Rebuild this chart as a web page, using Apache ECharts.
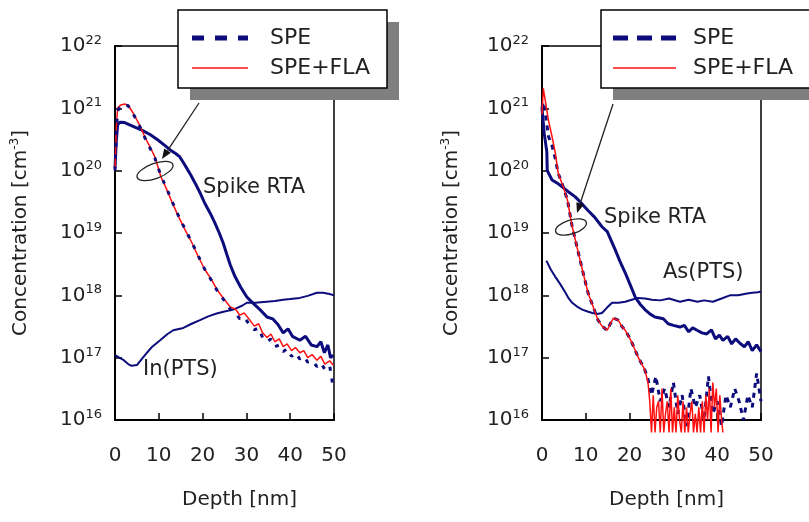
<!DOCTYPE html>
<html>
<head>
<meta charset="utf-8">
<script src="https://cdn.jsdelivr.net/npm/echarts@6/dist/echarts.min.js"></script>
<style>
html, body { margin: 0; padding: 0; background: #fff; }
#chart { width: 809px; height: 522px; }
</style>
</head>
<body>
<div id="chart"></div>
<script>
// ---- Left panel: In profiles ----
const inPtsDepth = [0, 1, 2, 3, 3.8, 5, 6, 7.3, 8.5, 10.3, 12, 13.3, 15.6, 17.5, 19.4, 21.3, 23.2, 25, 27, 29, 30.1, 32, 34.6, 36.5, 38.4, 40, 42.2, 44, 46.1, 47.5, 49, 50];
const inPtsConc = [1.1e17, 1.0e17, 9.1e16, 7.9e16, 7.4e16, 7.6e16, 9.3e16, 1.2e17, 1.5e17, 1.9e17, 2.4e17, 2.75e17, 3.0e17, 3.5e17, 4.0e17, 4.6e17, 5.1e17, 5.5e17, 5.9e17, 6.8e17, 7.6e17, 7.6e17, 7.9e17, 8.1e17, 8.5e17, 8.7e17, 9.1e17, 9.8e17, 1.1e18, 1.1e18, 1.05e18, 1.0e18];

const inSpikeDepth = [0, 0.3, 0.6, 1.2, 2.2, 4, 6, 8, 9.8, 11.5, 12.8, 14, 14.8, 15.6, 16.2, 17.3, 18.3, 19.5, 20.5, 21.7, 22.8, 23.8, 24.7, 25.5, 26.3, 27.4, 28.7, 30.1, 31.5, 33.1, 34.7, 36, 37.2, 38.4, 39.5, 40.5, 42.2, 43.5, 44.8, 46.1, 47, 47.8, 48.6, 49.2, 49.8];
const inSpikeConc = [1.1e20, 3e20, 5.5e20, 6e20, 5.9e20, 5.2e20, 4.5e20, 3.8e20, 3.1e20, 2.5e20, 2.1e20, 1.85e20, 1.66e20, 1.35e20, 1.15e20, 8.5e19, 6.3e19, 4.3e19, 3.0e19, 2.1e19, 1.45e19, 1.0e19, 6.9e18, 4.6e18, 3.1e18, 2.0e18, 1.35e18, 9.4e17, 7.5e17, 5.9e17, 4.5e17, 4.2e17, 3.4e17, 2.5e17, 2.9e17, 2.2e17, 1.9e17, 2.2e17, 1.6e17, 1.5e17, 1.8e17, 1.2e17, 1.6e17, 1.0e17, 1.1e17];

const inDepth = [0, 0.3, 0.6, 1.2, 2.2, 3, 4.1, 5.5, 6.8, 8, 9.1, 10.5, 11.7, 12.8, 14.4, 16, 17.5, 19, 20.5, 22, 23.3, 24.8, 26.3, 27.5, 28.5, 29.5, 30.8, 31.8, 32.8, 33.7, 34.7, 35.6, 36.5, 37.5, 38.4, 39.3, 40.3, 41.2, 42.2, 43.1, 44, 45, 46.1, 47, 47.9, 49, 49.8];
const inSpeFla = [1.0e20, 5e20, 1.0e21, 1.12e21, 1.17e21, 1.12e21, 8.5e20, 5.6e20, 3.5e20, 2.4e20, 1.66e20, 7.9e19, 5.2e19, 3.4e19, 1.9e19, 1.12e19, 7.1e18, 4.2e18, 2.6e18, 1.8e18, 1.23e18, 8.9e17, 6.5e17, 6.0e17, 4.8e17, 5.2e17, 4.0e17, 3.2e17, 3.5e17, 2.5e17, 2.1e17, 2.4e17, 1.8e17, 2.0e17, 1.5e17, 1.66e17, 1.3e17, 1.45e17, 1.2e17, 1.3e17, 1.0e17, 1.12e17, 9.1e16, 1.05e17, 7.9e16, 8.9e16, 7.6e16];
const inSpe = [1.0e20, 4e20, 9e20, 1.1e21, 1.15e21, 1.1e21, 8.3e20, 5.4e20, 3.4e20, 2.3e20, 1.6e20, 8.2e19, 5.4e19, 3.5e19, 1.95e19, 1.15e19, 7.2e18, 4.3e18, 2.6e18, 1.75e18, 1.2e18, 8.5e17, 6.0e17, 5.2e17, 4.2e17, 4.5e17, 3.3e17, 2.8e17, 3.0e17, 2.1e17, 1.8e17, 2.0e17, 1.5e17, 1.6e17, 1.25e17, 1.4e17, 1.05e17, 1.2e17, 9.5e16, 1.05e17, 8.5e16, 9.0e16, 7.2e16, 8.3e16, 6.5e16, 7.5e16, 3.4e16];

// ---- Right panel: As profiles ----
const asPtsDepth = [1, 2, 3, 4.2, 5.3, 6.1, 6.9, 8, 9.2, 10.4, 11.5, 12.6, 13.7, 14.8, 16, 17.5, 19, 20.5, 21.9, 23.5, 25.1, 27, 29, 31.5, 33.5, 35.5, 37, 39, 41, 42.9, 44.8, 46.8, 48, 49.3, 50];
const asPtsConc = [3.6e18, 2.6e18, 2.0e18, 1.5e18, 1.12e18, 8.9e17, 7.6e17, 6.6e17, 5.9e17, 5.5e17, 5.2e17, 5.0e17, 5.2e17, 6.3e17, 7.6e17, 7.6e17, 7.9e17, 8.5e17, 9.1e17, 8.9e17, 8.5e17, 8.3e17, 8.9e17, 7.9e17, 8.5e17, 7.9e17, 8.3e17, 7.9e17, 8.9e17, 1.0e18, 1.0e18, 1.07e18, 1.1e18, 1.12e18, 1.15e18];

const asSpikeDepth = [0, 0.5, 1.1, 1.2, 2.3, 3.5, 4.6, 6, 7.6, 9, 10.5, 12, 13.7, 14.9, 16.7, 17.8, 19, 20.1, 21.3, 22.4, 23.5, 24.7, 25.8, 27.7, 28.8, 30, 31.5, 32.5, 33.5, 34.4, 35.4, 36.5, 37.6, 38.7, 39.6, 40.5, 41.3, 42.4, 43.3, 44.2, 45.2, 46.2, 47.1, 48, 49, 50];
const asSpikeConc = [1.0e21, 4e20, 2e20, 1.0e20, 7.1e19, 6.3e19, 5.5e19, 4.6e19, 3.8e19, 3.0e19, 2.3e19, 1.8e19, 1.26e19, 1.05e19, 5.4e18, 3.5e18, 2.3e18, 1.5e18, 9.3e17, 7.2e17, 5.9e17, 5.0e17, 4.5e17, 4.2e17, 3.5e17, 3.3e17, 3.1e17, 3.3e17, 2.6e17, 3.0e17, 2.75e17, 2.5e17, 2.4e17, 2.8e17, 2.0e17, 2.3e17, 1.9e17, 2.2e17, 1.66e17, 2.0e17, 1.7e17, 1.5e17, 1.8e17, 1.3e17, 1.6e17, 1.25e17];

const asFlaDepth = [0, 0.3, 0.8, 1.5, 2.3, 3, 3.7, 4.8, 5.8, 6.9, 7.6, 8.4, 9.2, 10.5, 11.7, 12.8, 13.7, 14.9, 15.6, 16.3, 17.4, 18.2, 19, 19.8, 20.6, 21.3, 22, 22.8, 23.5, 24.2,
  24.6, 25.0, 25.4, 25.8, 26.2, 26.6, 27.0, 27.4, 27.8, 28.2, 28.6, 29.0, 29.4, 29.8, 30.2, 30.6, 31.0, 31.4, 31.8, 32.2, 32.6, 33.0, 33.4, 33.8, 34.2, 34.6, 35.0, 35.4, 35.8, 36.2, 36.6, 37.0, 37.4, 37.8, 38.2, 38.6, 39.0, 39.4, 39.8, 40.2, 40.6, 41.0, 41.3];
const asSpeFla = [8e20, 2.1e21, 1.26e21, 6.3e20, 3.5e20, 2.0e20, 9.1e19, 5.6e19, 3.4e19, 1.26e19, 7.8e18, 4.5e18, 2.6e18, 1.1e18, 6.5e17, 4.0e17, 3.2e17, 2.75e17, 3.5e17, 4.3e17, 4.0e17, 3.2e17, 2.75e17, 2.2e17, 1.7e17, 1.3e17, 1.0e17, 7.9e16, 6.3e16, 4.0e16,
  2.0e16, 6.3e15, 2.5e16, 6.3e15, 1.6e16, 2.0e16, 6.3e15, 3.2e16, 6.3e15, 1.26e16, 2.0e16, 6.3e15, 3.2e16, 6.3e15, 1.6e16, 6.3e15, 2.5e16, 1.0e16, 6.3e15, 2.0e16, 6.3e15, 1.6e16, 6.3e15, 1.26e16, 2.0e16, 6.3e15, 1.26e16, 6.3e15, 1.6e16, 6.3e15, 2.0e16, 6.3e15, 2.5e16, 1.0e16, 3.2e16, 6.3e15, 4.0e16, 1.6e16, 3.2e16, 6.3e15, 2.5e16, 1.0e16, 6.3e15];

const asSpeDepth = [0, 0.3, 0.8, 1.5, 2.3, 3, 3.7, 4.8, 5.8, 6.9, 7.6, 8.4, 9.2, 10.5, 11.7, 12.8, 13.7, 14.9, 15.6, 16.3, 17.4, 18.2, 19, 19.8, 20.6, 21.3, 22, 22.8, 23.5, 24.2, 25, 26, 27, 28, 29, 30, 31, 32, 33, 34, 35, 36, 37, 38, 39, 40, 41, 42, 43, 44, 45, 46, 47, 48, 49, 50];
const asSpe = [1.0e21, 1.26e21, 7.9e20, 3.5e20, 2.5e20, 1.6e20, 9.1e19, 5.6e19, 3.4e19, 1.26e19, 7.8e18, 4.5e18, 2.6e18, 1.1e18, 6.5e17, 4.0e17, 3.2e17, 2.75e17, 3.5e17, 4.3e17, 4.0e17, 3.2e17, 2.75e17, 2.2e17, 1.7e17, 1.3e17, 1.0e17, 7.9e16, 6.3e16, 4.5e16, 2.5e16, 5.0e16, 2.0e16, 3.2e16, 1.6e16, 4.0e16, 1.26e16, 2.5e16, 8e15, 3.2e16, 1.6e16, 2.5e16, 1.0e16, 5.0e16, 1.26e16, 2.0e16, 8e15, 2.5e16, 1.6e16, 3.2e16, 2.0e16, 1.0e16, 2.5e16, 1.6e16, 5.6e16, 2.0e16];

// ---- Axis and label text ----
const depthTicks = { min: 0, max: 50, step: 10 };
const concRange = { min: 1e16, max: 1e22 };
const legendNames = ['SPE', 'SPE+FLA'];
const xTitle = 'Depth [nm]';

const NAVY = '#0c0c7c';
const RED = '#ff1010';
const FONT = 'DejaVu Sans';

const zip = (xs, ys) => xs.map((x, i) => [x, ys[i]]);

function xAxisFor(gridIndex) {
  return {
    type: 'value', gridIndex,
    min: depthTicks.min, max: depthTicks.max, interval: depthTicks.step,
    axisLine: { show: true, lineStyle: { color: '#000', width: 2 } },
    axisTick: { inside: true, length: 7, lineStyle: { color: '#000', width: 1.5 } },
    splitLine: { show: false },
    axisLabel: { color: '#222', fontFamily: FONT, fontSize: 20, margin: 26 },
    name: xTitle, nameLocation: 'middle', nameGap: 70,
    nameTextStyle: { color: '#222', fontFamily: FONT, fontSize: 20, padding: [0, 0, 0, 30] }
  };
}

function yAxisFor(gridIndex, gap) {
  return {
    type: 'log', logBase: 10, gridIndex,
    min: concRange.min, max: concRange.max, splitNumber: 6,
    axisLine: { show: true, lineStyle: { color: '#000', width: 2 } },
    axisTick: { inside: true, length: 7, lineStyle: { color: '#000', width: 1.5 } },
    splitLine: { show: false },
    minorTick: { show: false },
    axisLabel: {
      margin: 13,
      formatter: v => '{b|10}{e|' + Math.round(Math.log10(v)) + '}',
      rich: {
        b: { fontFamily: FONT, fontSize: 20, color: '#222', lineHeight: 24 },
        e: { fontFamily: FONT, fontSize: 13, color: '#222', verticalAlign: 'top', lineHeight: 12 }
      }
    },
    name: '{t|Concentration [cm}{s|-3}{t|]}',
    nameLocation: 'middle', nameGap: gap, nameRotate: 90,
    nameTextStyle: {
      rich: {
        t: { fontFamily: FONT, fontSize: 20, color: '#222', lineHeight: 24 },
        s: { fontFamily: FONT, fontSize: 12, color: '#222', verticalAlign: 'top', lineHeight: 12 }
      }
    }
  };
}

function line(name, xi, data, color, width, dash, extra) {
  return Object.assign({
    name, type: 'line', xAxisIndex: xi, yAxisIndex: xi,
    data, showSymbol: false, symbol: 'none', smooth: false,
    lineStyle: { color, width, type: dash || 'solid' },
    itemStyle: { color },
    animation: false
  }, extra || {});
}

// legend panel with drop shadow, sample strokes and names
function legendBox(x, w, sampleX1, sampleX2, textX, dash) {
  return [
    { type: 'rect', z: 100, shape: { x: x + 12, y: 22, width: w, height: 78 }, style: { fill: '#7f7f7f' } },
    { type: 'rect', z: 101, shape: { x: x, y: 10, width: w, height: 78 }, style: { fill: '#fff', stroke: '#000', lineWidth: 1.5 } },
    { type: 'line', z: 102, shape: { x1: sampleX1, y1: 38, x2: sampleX2, y2: 38 }, style: { stroke: NAVY, lineWidth: 5, lineDash: dash } },
    { type: 'text', z: 102, x: textX, y: 38, style: { text: legendNames[0], font: '22px "DejaVu Sans"', fill: '#222', verticalAlign: 'middle' } },
    { type: 'line', z: 102, shape: { x1: sampleX1, y1: 68, x2: sampleX2, y2: 68 }, style: { stroke: RED, lineWidth: 1.5 } },
    { type: 'text', z: 102, x: textX, y: 68, style: { text: legendNames[1], font: '22px "DejaVu Sans"', fill: '#222', verticalAlign: 'middle' } }
  ];
}

// callout: leader line with arrow head, and an ellipse round the curve pair
function callout(x1, y1, tx, ty, ex, ey, rx, ry, rot) {
  const dx = tx - x1, dy = ty - y1, L = Math.hypot(dx, dy);
  const ux = dx / L, uy = dy / L, bx = tx - 10 * ux, by = ty - 10 * uy;
  return [
    { type: 'line', z: 90, shape: { x1, y1, x2: bx, y2: by }, style: { stroke: '#222', lineWidth: 1.3 } },
    { type: 'polygon', z: 90, shape: { points: [[tx, ty], [bx + 4 * uy, by - 4 * ux], [bx - 4 * uy, by + 4 * ux]] }, style: { fill: '#111' } },
    { type: 'ellipse', z: 90, x: ex, y: ey, rotation: rot, shape: { cx: 0, cy: 0, rx, ry }, style: { fill: 'none', stroke: '#222', lineWidth: 1.3 } }
  ];
}

function label(text, x, y) {
  return { type: 'text', z: 95, x, y, style: { text, font: '21px "DejaVu Sans"', fill: '#222', verticalAlign: 'middle' } };
}

const chart = echarts.init(document.getElementById('chart'), null, { renderer: 'canvas' });
chart.setOption({
  backgroundColor: '#fff',
  animation: false,
  grid: [
    { left: 115, top: 46, width: 219, height: 374, show: true, borderColor: '#000', borderWidth: 1.5, backgroundColor: 'transparent' },
    { left: 542, top: 46, width: 219, height: 374, show: true, borderColor: '#000', borderWidth: 1.5, backgroundColor: 'transparent' }
  ],
  xAxis: [xAxisFor(0), xAxisFor(1)],
  yAxis: [yAxisFor(0, 82), yAxisFor(1, 78)],
  series: [
    line('In(PTS)', 0, zip(inPtsDepth, inPtsConc), NAVY, 2),
    line('Spike RTA', 0, zip(inSpikeDepth, inSpikeConc), NAVY, 3),
    line('SPE+FLA', 0, zip(inDepth, inSpeFla), RED, 1.5),
    line('SPE', 0, zip(inDepth, inSpe), NAVY, 3, [4, 8], { clip: false }),
    line('As(PTS)', 1, zip(asPtsDepth, asPtsConc), NAVY, 2),
    line('Spike RTA', 1, zip(asSpikeDepth, asSpikeConc), NAVY, 3),
    line('SPE', 1, zip(asSpeDepth, asSpe), NAVY, 3, [5, 5], { clip: false }),
    line('SPE+FLA', 1, zip(asFlaDepth, asSpeFla), RED, 1.5, null, { clip: false })
  ],
  graphic: [].concat(
    callout(199, 103, 162, 159, 155, 171, 19, 7.5, 0.35),
    callout(613, 104, 577, 213, 571, 227, 16, 7, 0.3),
    [label('Spike RTA', 203, 188), label('In(PTS)', 143, 370),
     label('Spike RTA', 604, 218), label('As(PTS)', 663, 273)],
    legendBox(178, 209, 192, 248, 270, [12, 11]),
    legendBox(601, 230, 613, 676, 693, [15, 9])
  )
});
</script>
</body>
</html>
